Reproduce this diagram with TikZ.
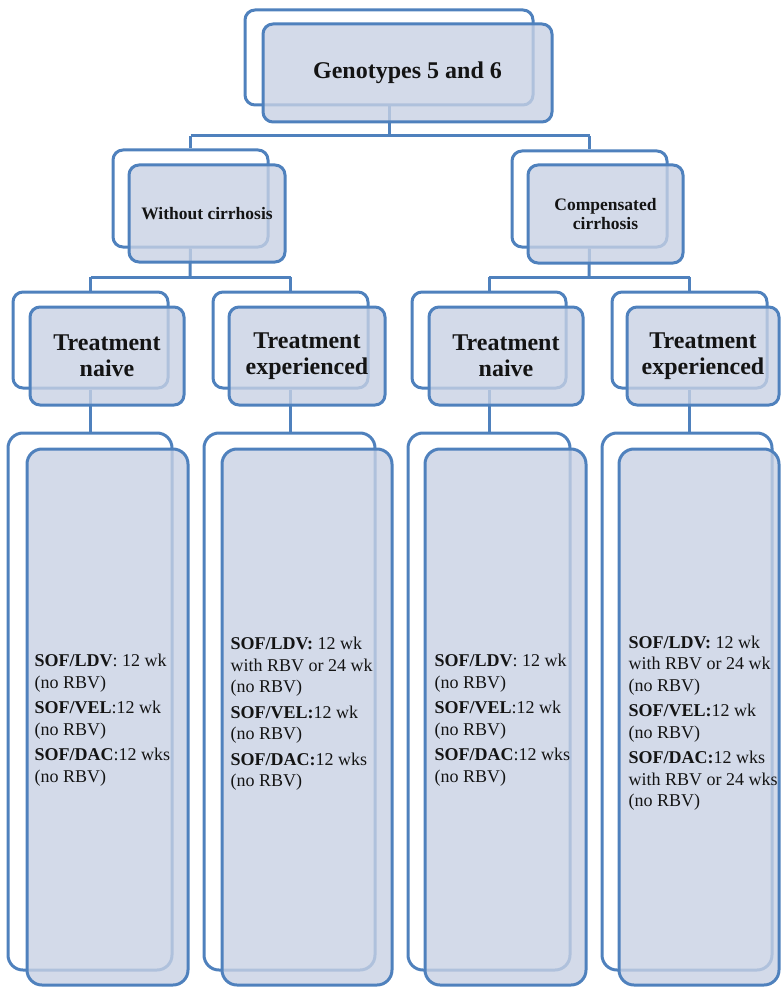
\documentclass[tikz,border=0pt]{standalone}
\usepackage{fontspec}
\setmainfont{Liberation Serif}
\definecolor{bl}{RGB}{79,129,189}
\definecolor{fl}{RGB}{200,209,228}
\definecolor{tx}{RGB}{20,20,20}
\tikzset{
  backbox/.style={draw=bl, line width=3pt, rounded corners=10pt, inner sep=0pt, rectangle},
  frontbox/.style={draw=bl, line width=3pt, rounded corners=10pt, inner sep=0pt, rectangle,
     fill=fl, fill opacity=0.8, text opacity=1, text=tx, align=center},
  tallback/.style={backbox, rounded corners=15pt},
  tallfront/.style={frontbox, rounded corners=15pt},
  conn/.style={draw=bl, line width=3pt},
  bodytext/.style={anchor=west, align=left, text=tx, inner sep=0pt, font=\fontsize{18}{21.5}\selectfont},
}
% name, x1, y1, x2, y2, style, text
\newcommand\mybox[7]{%
  \node[#6, minimum width={(#4-#2)*1pt}, minimum height={(#5-#3)*1pt}] (#1)
     at ({(#2+#4)/2},{(#3+#5)/2}) {#7};}
\begin{document}
\begin{tikzpicture}[x=1pt,y=-1pt]
\useasboundingbox (0,0) rectangle (781,987);
% ---- back boxes
\mybox{b0}{245}{10}{533}{105}{backbox}{}
\mybox{b1}{113}{150}{268}{247}{backbox}{}
\mybox{b2}{512}{151}{667}{247}{backbox}{}
\mybox{b11}{13}{292}{168}{388}{backbox}{}
\mybox{b12}{213}{292}{368}{388}{backbox}{}
\mybox{b21}{412}{292}{566}{388}{backbox}{}
\mybox{b22}{612}{292}{767}{388}{backbox}{}
\mybox{c11}{8}{433}{172}{970}{tallback}{}
\mybox{c12}{204}{433}{375}{970}{tallback}{}
\mybox{c21}{408}{433}{570}{970}{tallback}{}
\mybox{c22}{602}{433}{772}{970}{tallback}{}
% ---- connectors
\coordinate (bus0) at (389,136);
\coordinate (busL) at (190,277);
\coordinate (busR) at (589,277);
\draw[conn] (b0.south) -- (bus0);
\draw[conn] (b1.north |- bus0) -| (b1.north);
\draw[conn] (b2.north |- bus0) -| (b2.north);
\draw[conn] (b1.north |- bus0) -- (b2.north |- bus0);
\draw[conn] (b1.south) -- (busL);
\draw[conn] (b11.north |- busL) -- (b12.north |- busL);
\draw[conn] (b11.north |- busL) -- (b11.north);
\draw[conn] (b12.north |- busL) -- (b12.north);
\draw[conn] (b2.south) -- (busR);
\draw[conn] (b21.north |- busR) -- (b22.north |- busR);
\draw[conn] (b21.north |- busR) -- (b21.north);
\draw[conn] (b22.north |- busR) -- (b22.north);
\draw[conn] (b11.south) -- (b11.south |- c11.north);
\draw[conn] (b12.south) -- (b12.south |- c12.north);
\draw[conn] (b21.south) -- (b21.south |- c21.north);
\draw[conn] (b22.south) -- (b22.south |- c22.north);
% ---- front boxes
\mybox{f0}{263}{24}{552}{122}{frontbox, font=\fontsize{24}{28}\selectfont\bfseries}{Genotypes 5 and 6}
\mybox{f1}{129}{165}{285}{262}{frontbox, font=\fontsize{17.5}{19.5}\selectfont\bfseries}{Without cirrhosis}
\mybox{f2}{528}{165}{683}{263}{frontbox, font=\fontsize{17.5}{19.5}\selectfont\bfseries}{Compensated\\cirrhosis}
\mybox{f11}{30}{307}{184}{405}{frontbox, font=\fontsize{24}{26}\selectfont\bfseries}{Treatment\\naive}
\mybox{f12}{229}{307}{385}{405}{frontbox, font=\fontsize{24}{26}\selectfont\bfseries}{Treatment\\experienced}
\mybox{f21}{429}{307}{583}{405}{frontbox, font=\fontsize{24}{26}\selectfont\bfseries}{Treatment\\naive}
\mybox{f22}{627}{307}{779}{405}{frontbox, font=\fontsize{24}{26}\selectfont\bfseries}{Treatment\\experienced}
\mybox{g11}{27}{449}{188}{985}{tallfront}{}
\mybox{g12}{222}{449}{392}{985}{tallfront}{}
\mybox{g21}{425}{449}{586}{985}{tallfront}{}
\mybox{g22}{619}{449}{779}{985}{tallfront}{}
% ---- body texts
\node[bodytext] (t11) at (g11.west |- 0,720) [xshift=9pt]
  {\textbf{SOF/LDV}: 12 wk\\(no RBV)\\[4pt]\textbf{SOF/VEL}:12 wk\\(no RBV)\\[4pt]\textbf{SOF/DAC}:12 wks\\(no RBV)};
\node[bodytext] (t12) at (g12.west |- 0,714) [xshift=10pt]
  {\textbf{SOF/LDV:} 12 wk\\with RBV or 24 wk\\(no RBV)\\[4pt]\textbf{SOF/VEL:}12 wk\\(no RBV)\\[4pt]\textbf{SOF/DAC:}12 wks\\(no RBV)};
\node[bodytext] (t21) at (g21.west |- 0,720) [xshift=11pt]
  {\textbf{SOF/LDV}: 12 wk\\(no RBV)\\[4pt]\textbf{SOF/VEL}:12 wk\\(no RBV)\\[4pt]\textbf{SOF/DAC}:12 wks\\(no RBV)};
\node[bodytext] (t22) at (g22.west |- 0,723) [xshift=11pt]
  {\textbf{SOF/LDV:} 12 wk\\with RBV or 24 wk\\(no RBV)\\[4pt]\textbf{SOF/VEL:}12 wk\\(no RBV)\\[4pt]\textbf{SOF/DAC:}12 wks\\with RBV or 24 wks\\(no RBV)};
\end{tikzpicture}
\end{document}
